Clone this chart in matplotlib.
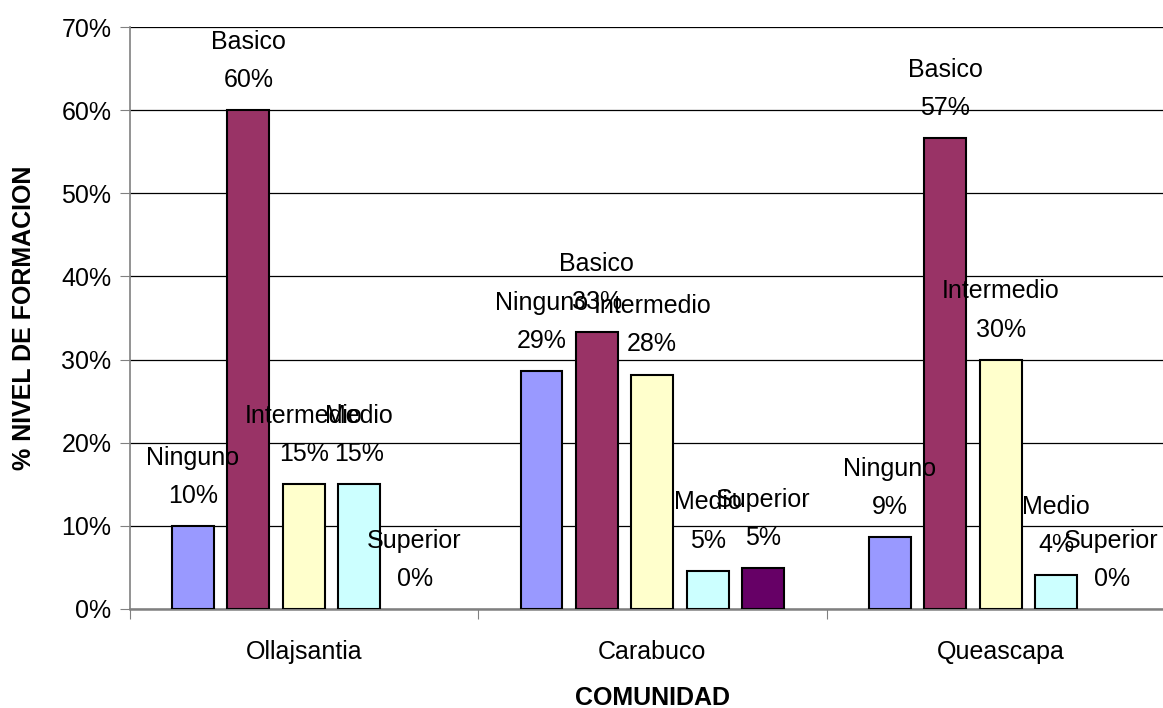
import matplotlib.pyplot as plt
import numpy as np

plt.rcParams['font.family'] = ['Liberation Sans', 'DejaVu Sans']

# Datos
comunidades = ['Ollajsantia', 'Carabuco', 'Queascapa']
niveles = ['Ninguno', 'Basico', 'Intermedio', 'Medio', 'Superior']
ninguno = [10, 28.6, 8.6]
basico = [60, 33.3, 56.6]
intermedio = [15, 28.2, 30]
medio = [15, 4.6, 4.1]
superior = [0, 4.95, 0]
series = [ninguno, basico, intermedio, medio, superior]
colores = ['#9999FF', '#993366', '#FFFFCC', '#CCFFFF', '#660066']

fig = plt.figure(figsize=(11.63, 7.08), dpi=100)
ax = fig.add_axes([129.5 / 1163, 99 / 708, 1045.5 / 1163, 582 / 708])

x = np.arange(len(comunidades))
paso = 0.159
ancho = 0.12
fs = 18

for i, (nombre, vals, c) in enumerate(zip(niveles, series, colores)):
    pos = x + (i - 2) * paso
    lw = [1.5 if v > 0 else 0 for v in vals]
    ax.bar(pos, vals, ancho, color=c, edgecolor='black', linewidth=lw, zorder=3)
    for px, v in zip(pos, vals):
        ax.annotate(f'{nombre}\n{v:.0f}%', (px, v), xytext=(0, 13),
                    textcoords='offset points', ha='center', va='bottom',
                    fontsize=fs, linespacing=1.75, zorder=4)

ax.set_xlim(-0.5, 2.5)
ax.set_ylim(0, 70)
ax.set_yticks(range(0, 71, 10))
ax.set_yticklabels([f'{v}%' for v in range(0, 71, 10)], fontsize=fs)
ax.grid(axis='y', color='black', linewidth=0.9, zorder=0)

ax.set_xticks([-0.5, 0.5, 1.5, 2.5])
ax.set_xticklabels([])
ax.set_xticks(x, minor=True)
ax.set_xticklabels(comunidades, minor=True, fontsize=fs)
ax.tick_params(axis='x', which='major', length=7, color='#808080')
ax.tick_params(axis='x', which='minor', length=0, pad=22)
ax.tick_params(axis='y', length=7, color='#808080', pad=6)

for s in ['top', 'right']:
    ax.spines[s].set_visible(False)
ax.spines['left'].set_color('#808080')
ax.spines['bottom'].set_color('#808080')
ax.spines['bottom'].set_linewidth(1.8)
ax.spines['left'].set_linewidth(1.2)

ax.set_xlabel('COMUNIDAD', fontsize=fs, fontweight='bold', labelpad=16)
ax.set_ylabel('% NIVEL DE FORMACION', fontsize=fs, fontweight='bold', labelpad=18)

fig.savefig('out.png', dpi=100)
